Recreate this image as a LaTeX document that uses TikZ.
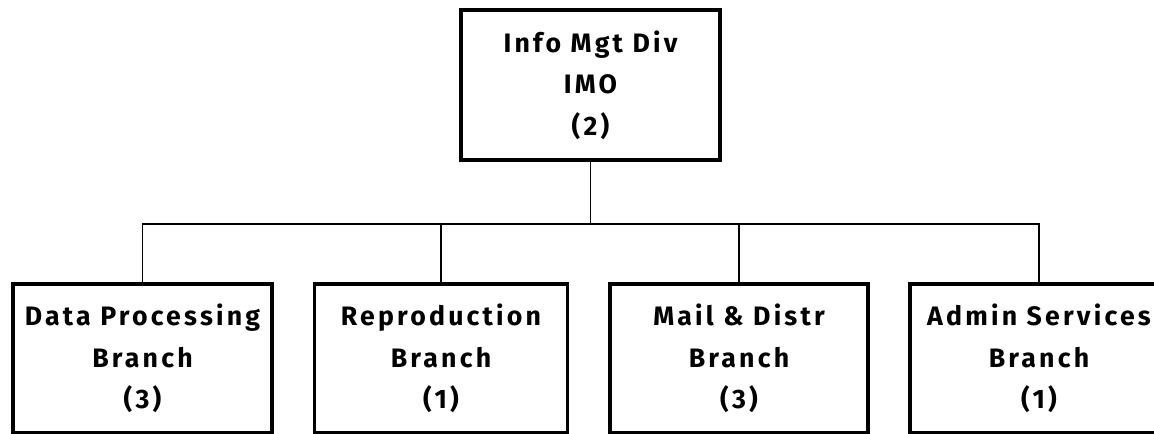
\documentclass[tikz,border=0pt]{standalone}
\usepackage{fontspec}
\newfontfamily\chartfont[LetterSpace=12.0]{Fira Sans}
\tikzset{
  x=0.75pt, y=-0.75pt,
  unitbox/.style={draw, line width=2.3pt, inner sep=0pt, align=center,
    font=\chartfont\bfseries\fontsize{20}{31}\selectfont},
  link/.style={line width=1.1pt}
}
\begin{document}
\begin{tikzpicture}
\useasboundingbox[fill=white] (0,0) rectangle (1154,434);
\node[unitbox, minimum width={259*0.75pt}, minimum height={150*0.75pt}] (top) at (590.5,85)
  {Info Mgt Div\\IMO\\(2)};
\node[unitbox, minimum width={259*0.75pt}, minimum height={149*0.75pt}] (dp) at (142.5,358.5)
  {Data Processing\\Branch\\(3)};
\node[unitbox, minimum width={253*0.75pt}, minimum height={149*0.75pt}] (rp) at (441,358.5)
  {Reproduction\\Branch\\(1)};
\node[unitbox, minimum width={258*0.75pt}, minimum height={149*0.75pt}] (md) at (739,358.5)
  {Mail \& Distr\\Branch\\(3)};
\node[unitbox, minimum width={258*0.75pt}, minimum height={149*0.75pt}] (as) at (1039,358.5)
  {Admin Services\\Branch\\(1)};
\coordinate (bar) at (590.5,224);
\draw[link] (top.south) -- (bar);
\draw[link] (dp.north) -- (dp.north |- bar) -- (as.north |- bar) -- (as.north);
\draw[link] (rp.north) -- (rp.north |- bar);
\draw[link] (md.north) -- (md.north |- bar);
\end{tikzpicture}
\end{document}
